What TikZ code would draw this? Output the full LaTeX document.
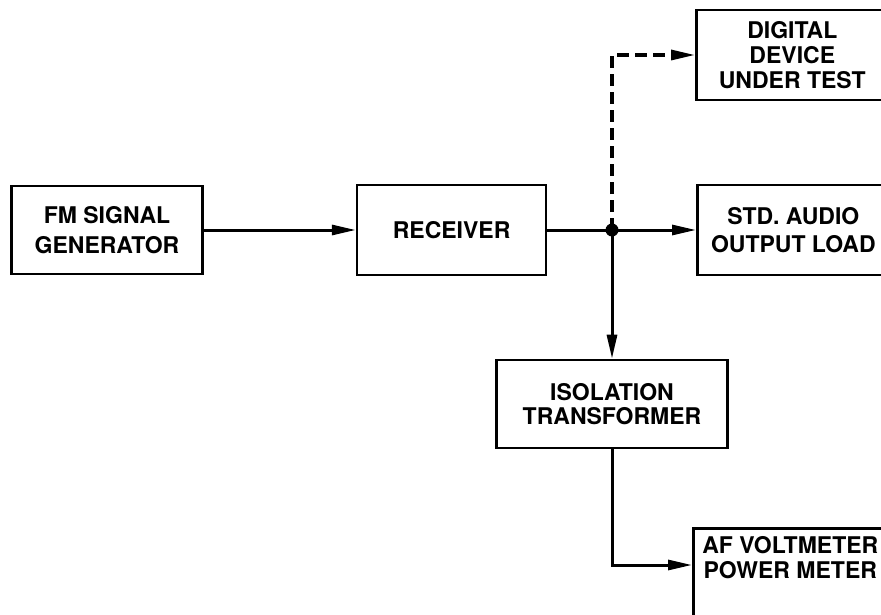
\documentclass[tikz,border=0pt]{standalone}
\usepackage{fontspec}
\setmainfont{TeX Gyre Heros}
\usepackage{tikz}
\usetikzlibrary{arrows.meta,positioning,calc}

\begin{document}
\begin{tikzpicture}[
  x=1pt, y=-1pt,                     % pixel-like units, y pointing down
  node distance=152pt,
  >={Triangle[length=24pt,width=10pt]}, % slim filled arrow tip
  blk/.style={draw, line width=2.6pt, align=center, inner sep=2pt,
    font=\bfseries\fontsize{23}{25}\selectfont},
  wire/.style={line width=3pt},
  dashwire/.style={line width=3.2pt, dash pattern=on 12pt off 6pt}
]
\useasboundingbox (0,0) rectangle (881,615);
\clip (0,0) rectangle (881,615);

\node[blk, minimum width=191pt, minimum height=88pt,
  font=\bfseries\fontsize{23}{30}\selectfont] (fm) at (107,230) {FM SIGNAL\\GENERATOR};
\node[blk, minimum width=189pt, minimum height=90pt, right=of fm] (rx) {RECEIVER};
\coordinate (j) at (612,230);

% right-hand boxes run past the edge of the sheet
\node[blk, anchor=west, minimum width=192pt, minimum height=90pt] (dig) at (695,55) {DIGITAL\\DEVICE\\UNDER TEST};
\node[blk, anchor=west, minimum width=192pt, minimum height=90pt,
  font=\bfseries\fontsize{23}{28}\selectfont] (std) at (696,230) {STD. AUDIO\\OUTPUT LOAD};
\node[blk, minimum width=231pt, minimum height=88pt,
  font=\bfseries\fontsize{23}{24}\selectfont] (iso) at (612,404) {ISOLATION\\TRANSFORMER};
\node[blk, anchor=north west, minimum width=194pt, inner ysep=8pt, text depth=70pt] (af) at (692,527) {AF VOLTMETER\\POWER METER};
\coordinate (afin) at (692,565);

\draw[wire,->] (fm.east |- rx) -- (rx);
\draw[wire] (rx) -- (j);
\draw[wire,->] (j) -- (j -| std.west);
\draw[dashwire,->] (j) |- (dig.west);
\draw[wire,->] (j) -- (iso);
\draw[wire,->] (iso.south) |- (afin);
\fill (j) circle (6.5pt);
\end{tikzpicture}
\end{document}
